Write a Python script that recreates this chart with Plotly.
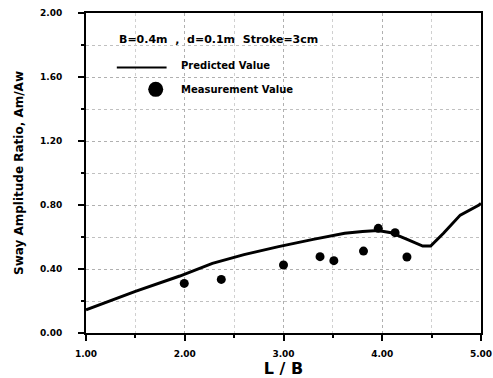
import plotly.graph_objects as go

# L/B ratio vs sway amplitude ratio
pred_lb = [1.00, 1.50, 1.95, 2.28, 2.60, 2.95, 3.30, 3.62, 3.80, 3.955, 4.09, 4.18, 4.27, 4.41, 4.49, 4.62, 4.79, 4.98, 5.00]
pred_ratio = [0.145, 0.26, 0.356, 0.435, 0.49, 0.54, 0.585, 0.623, 0.635, 0.64, 0.627, 0.605, 0.58, 0.543, 0.543, 0.623, 0.737, 0.80, 0.81]

meas_lb = [1.995, 2.37, 3.00, 3.37, 3.51, 3.81, 3.96, 4.13, 4.25]
meas_ratio = [0.31, 0.335, 0.425, 0.477, 0.452, 0.512, 0.654, 0.627, 0.475]

x_ticks = [1, 2, 3, 4, 5]
x_labels = ["1.00", "2.00", "3.00", "4.00", "5.00"]
y_ticks = [0.0, 0.4, 0.8, 1.2, 1.6, 2.0]
y_labels = ["0.00", "0.40", "0.80", "1.20", "1.60", "2.00"]

FONT = "DejaVu Sans"

fig = go.Figure()
fig.add_trace(go.Scatter(x=pred_lb, y=pred_ratio, mode="lines",
                         line=dict(color="black", width=3), showlegend=False))
fig.add_trace(go.Scatter(x=meas_lb, y=meas_ratio, mode="markers",
                         marker=dict(color="black", size=9), showlegend=False))

axis_common = dict(
    showline=True, linecolor="black", linewidth=2, mirror=True,
    ticks="outside", ticklen=6, tickcolor="black", tickwidth=1.5,
    tickfont=dict(family=FONT, size=9, color="black", weight="bold"),
    showgrid=True, gridcolor="#b0b0b0", griddash="dot", gridwidth=1,
    zeroline=False, ticklabeloverflow="allow", automargin=False,
)

fig.update_xaxes(range=[1, 5], tickvals=x_ticks, ticktext=x_labels,
                 ticklabelstandoff=5,
                 minor=dict(dtick=0.5, ticks="outside", ticklen=3, tickcolor="black",
                            showgrid=True, gridcolor="#d0d0d0", griddash="dot"),
                 title=dict(text="L / B", font=dict(family=FONT, size=16, color="black", weight="bold"),
                            standoff=0),
                 **axis_common)
fig.update_yaxes(range=[0, 2], tickvals=y_ticks, ticktext=y_labels,
                 ticklabelstandoff=14,
                 minor=dict(dtick=0.2, ticks="outside", ticklen=3, tickcolor="black",
                            showgrid=True, gridcolor="#c0c0c0", griddash="dot"),
                 title=dict(text="Sway Amplitude Ratio, Am/Aw",
                            font=dict(family=FONT, size=12, color="black", weight="bold"),
                            standoff=14),
                 **axis_common)

# In-plot legend block
legend_font = dict(family=FONT, size=10, color="black", weight="bold")
fig.add_annotation(xref="paper", yref="paper", x=0.078, y=0.918, xanchor="left", yanchor="middle",
                   text="B=0.4m&nbsp;&nbsp;,&nbsp;&nbsp;d=0.1m&nbsp;&nbsp;Stroke=3cm", showarrow=False,
                   font=dict(family=FONT, size=11, color="black", weight="bold"))
fig.add_shape(type="line", xref="paper", yref="paper", x0=0.078, x1=0.204, y0=0.830, y1=0.830,
              line=dict(color="black", width=2))
fig.add_annotation(xref="paper", yref="paper", x=0.236, y=0.836, xanchor="left", yanchor="middle",
                   text="Predicted Value", showarrow=False, font=legend_font)
fig.add_shape(type="circle", xref="paper", yref="paper", x0=0.1575, x1=0.1955, y0=0.738, y1=0.785,
              fillcolor="black", line=dict(color="black", width=0))
fig.add_annotation(xref="paper", yref="paper", x=0.236, y=0.762, xanchor="left", yanchor="middle",
                   text="Measurement Value", showarrow=False, font=legend_font)

fig.update_layout(
    width=493, height=378,
    margin=dict(l=86, r=12, t=13, b=45),
    paper_bgcolor="white", plot_bgcolor="white",
    font=dict(family=FONT, color="black"),
)

fig.write_html("out.html")
